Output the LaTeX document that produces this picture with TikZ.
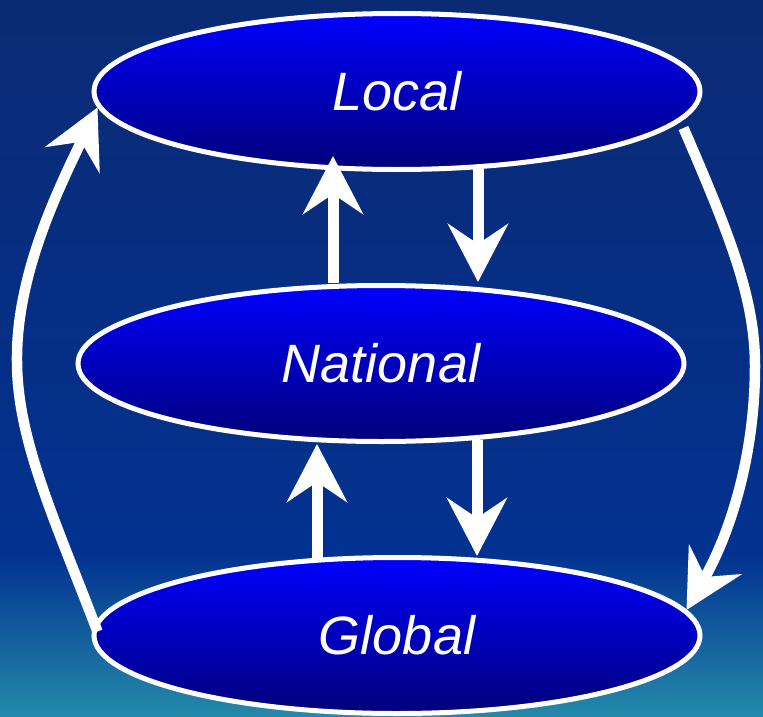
\documentclass[tikz,border=0pt]{standalone}
\usepackage{fontspec}
\setmainfont{Liberation Sans}
\usetikzlibrary{arrows.meta,shapes.geometric}

\definecolor{bgtop}{RGB}{11,42,116}
\definecolor{bgmid}{RGB}{2,50,144}
\definecolor{bgbot}{RGB}{36,138,170}
\definecolor{elltop}{RGB}{0,0,255}
\definecolor{ellbot}{RGB}{0,0,122}

\tikzset{
  level/.style={ellipse, draw=white, line width=5pt,
    top color=elltop, bottom color=ellbot,
    minimum width=606pt, minimum height=156pt,
    text=white, font=\fontsize{54}{58}\selectfont\itshape},
  flow/.style={draw=white, line width=11pt,
    -{Stealth[length=58pt, width=60pt, inset=20pt]}},
  loop/.style={flow, line width=10.5pt}
}

\begin{document}
\begin{tikzpicture}[x=1pt, y=-1pt]
  \useasboundingbox (0,0) rectangle (763,717);
  % background
  \shade[top color=bgtop, bottom color=bgmid] (0,0) rectangle (763,556);
  \shade[top color=bgmid, bottom color=bgbot] (0,555) rectangle (763,717);

  % the three levels
  \node[level] (loc) at (397,91.5) {Local};
  \node[level] (nat) at (381,363.5) {National};
  \node[level] (glo) at (397,635.5) {Global};

  % exchanges between neighbouring levels
  \draw[flow] ([xshift=-48pt]nat.north) -- ([xshift=-64pt,yshift=16pt]loc.south);
  \draw[flow] ([xshift=81pt,yshift=3pt]loc.south) -- ([xshift=97pt,yshift=1pt]nat.north);
  \draw[flow] ([xshift=-80pt,yshift=-3pt]glo.north) -- ([xshift=-64pt]nat.south);
  \draw[flow] ([xshift=96pt,yshift=4pt]nat.south) -- ([xshift=80pt,yshift=-1pt]glo.north);

  % outer loop: global up to local, local down to global
  \draw[loop] ([xshift=6pt,yshift=4pt]glo.west)
      .. controls (55,520) and (17,440) .. (17,361)
      .. controls (16,275) and (58,190) .. ([xshift=6pt,yshift=-16pt]loc.west);
  \draw[loop] ([xshift=-19pt,yshift=-36.5pt]loc.east)
      .. controls (732,240) and (755,300) .. (755,366)
      .. controls (755,450) and (733,528) .. ([xshift=-16pt,yshift=25.5pt]glo.east);
\end{tikzpicture}
\end{document}
